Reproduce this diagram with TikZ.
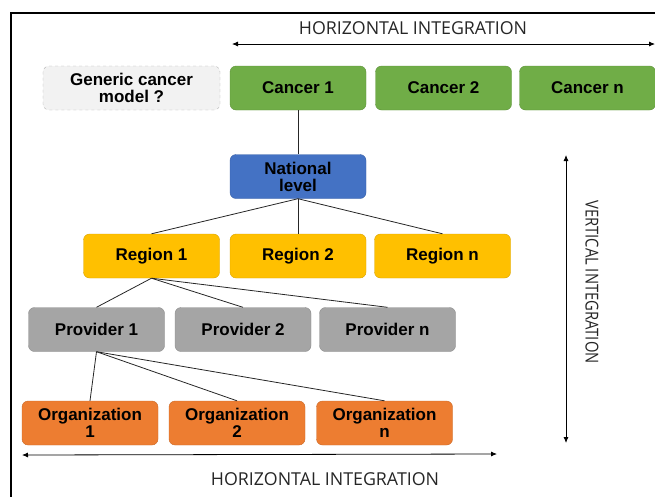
\documentclass[tikz,border=0pt]{standalone}
\usepackage{fontspec}
\setmainfont{Liberation Sans}
\newfontfamily\axisfont{Open Sans}
\usetikzlibrary{arrows.meta}

\definecolor{cancergreen}{HTML}{70AD47}
\definecolor{nationblue}{HTML}{4472C4}
\definecolor{regiongold}{HTML}{FFC000}
\definecolor{providergray}{HTML}{A5A5A5}
\definecolor{orgorange}{HTML}{ED7D31}
\definecolor{genericfill}{HTML}{F2F2F2}

\tikzset{
  box/.style={rounded corners=6pt, minimum width=136pt, minimum height=44pt,
    align=center, inner sep=2pt, fill=#1, draw=#1!85!black,
    font=\bfseries\fontsize{17}{17}\selectfont},
  genericbox/.style={box=genericfill, draw=black!30, dashed, minimum width=177pt},
  axis/.style={arrows={Latex[length=6pt,width=5pt]-Latex[length=6pt,width=5pt]}, line width=.8pt},
  axislabel/.style={font=\axisfont\fontsize{17.8}{19}\selectfont, text=black!85},
  link/.style={line width=.8pt, black!85}
}

\begin{document}
\begin{tikzpicture}[x=1pt,y=-1pt]
\useasboundingbox (0,0) rectangle (655,496);
\draw[line width=1.6pt] (11,497) -- (11,13) -- (656,13);

\node[genericbox] (gen) at (131.5,88) {Generic cancer\\model ?};
\node[box=cancergreen] (can1) at (298,88) {Cancer 1};
\node[box=cancergreen] (can2) at (443.5,88) {Cancer 2};
\node[box=cancergreen] (cann) at (587.5,88) {Cancer n};

\node[box=nationblue] (nat) at (298,176.5) {National\\level};

\node[box=regiongold] (reg1) at (151.5,256) {Region 1};
\node[box=regiongold] (reg2) at (298,256) {Region 2};
\node[box=regiongold] (regn) at (442.5,256) {Region n};

\node[box=providergray] (prov1) at (96.5,329.5) {Provider 1};
\node[box=providergray] (prov2) at (243,329.5) {Provider 2};
\node[box=providergray] (provn) at (387.5,329.5) {Provider n};

\node[box=orgorange] (org1) at (90,423) {Organization\\1};
\node[box=orgorange] (org2) at (237,423) {Organization\\2};
\node[box=orgorange] (orgn) at (384.5,423) {Organization\\n};

\draw[link] (can1) -- (nat);
\foreach \r in {reg1,reg2,regn}
  \draw[link] (nat.south) -- (\r.north);
\foreach \p in {prov1,prov2,provn}
  \draw[link] (reg1.south) -- (\p.north);
\foreach \o in {org1,org2,orgn}
  \draw[link] (prov1.south) -- (\o.north);

\coordinate (topL) at (232,44);
\coordinate (topR) at (655,44);
\coordinate (botL) at (22,455);
\coordinate (botR) at (497,454);
\coordinate (vertT) at (566,155);
\coordinate (vertB) at (566,443);
\draw[axis] (topL) -- (topR);
\draw[axis] (botL) -- (botR);
\draw[axis] (vertT) -- (vertB);
\node[axislabel] (hortop) at (413,28) {HORIZONTAL INTEGRATION};
\node[axislabel] (horbot) at (325,479) {HORIZONTAL INTEGRATION};
\node[axislabel, rotate=-90, xscale=.83] (vertlab) at (592,282) {VERTICAL INTEGRATION};
\end{tikzpicture}
\end{document}
